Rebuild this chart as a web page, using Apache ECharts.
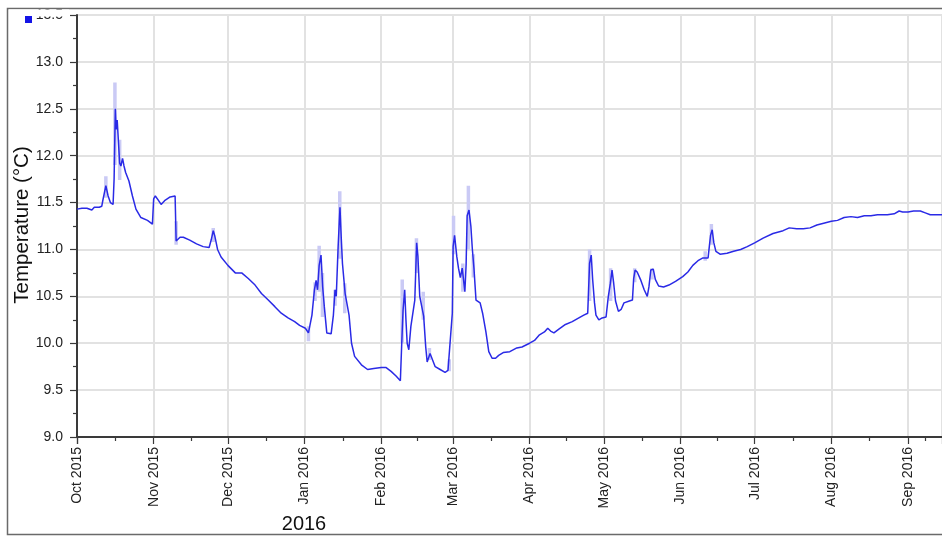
<!DOCTYPE html>
<html>
<head>
<meta charset="utf-8">
<script src="https://cdn.jsdelivr.net/npm/echarts@6/dist/echarts.min.js"></script>
<style>
html,body{margin:0;padding:0;background:#fff;}
#chart{width:942px;height:536px;}
</style>
</head>
<body>
<div id="chart"></div>
<script>
// ---- data ----
const seriesName = 'Temperature';
const yTitle = 'Temperature (°C)';
const yearLabel = '2016';
const monthNames = ['Jan','Feb','Mar','Apr','May','Jun','Jul','Aug','Sep','Oct','Nov','Dec'];

const tempDates = [
'2015-10-01','2015-10-03','2015-10-05','2015-10-07','2015-10-08','2015-10-10','2015-10-11','2015-10-11 12:00',
'2015-10-12 16:00','2015-10-13 14:00','2015-10-14 12:00','2015-10-15 14:00','2015-10-16 00:00','2015-10-16 12:00',
'2015-10-16 20:00','2015-10-17 06:00','2015-10-17 18:00','2015-10-18 06:00','2015-10-18 18:00','2015-10-19 10:00',
'2015-10-20 00:00','2015-10-20 16:00','2015-10-22','2015-10-23 10:00','2015-10-24 20:00','2015-10-26 20:00',
'2015-10-29 12:00','2015-10-31 12:00','2015-11-01','2015-11-01 16:00','2015-11-03','2015-11-04','2015-11-05 10:00',
'2015-11-07 16:00','2015-11-09 16:00','2015-11-10 02:00','2015-11-11 16:00','2015-11-13','2015-11-15 14:00',
'2015-11-18 08:00','2015-11-21','2015-11-23 10:00','2015-11-24 06:00','2015-11-25 02:00','2015-11-25 18:00',
'2015-11-26 20:00','2015-11-28 06:00','2015-12-01','2015-12-04','2015-12-06 14:00','2015-12-09 06:00','2015-12-12',
'2015-12-14 14:00','2015-12-17 08:00','2015-12-20','2015-12-22 14:00','2015-12-25 08:00','2015-12-28','2015-12-30',
'2016-01-01 08:00','2016-01-02 14:00','2016-01-04','2016-01-05','2016-01-05 16:00','2016-01-06 06:00','2016-01-06 22:00',
'2016-01-07 16:00','2016-01-08 08:00','2016-01-09','2016-01-10','2016-01-11 18:00','2016-01-12 16:00','2016-01-13 08:00',
'2016-01-13 20:00','2016-01-14 14:00','2016-01-15 08:00','2016-01-15 20:00','2016-01-16 08:00','2016-01-17 10:00',
'2016-01-19','2016-01-20','2016-01-21 06:00','2016-01-24','2016-01-26 12:00','2016-01-29','2016-02-01','2016-02-03',
'2016-02-05','2016-02-07','2016-02-08 18:00','2016-02-09 06:00','2016-02-09 20:00','2016-02-10 12:00','2016-02-11 00:00',
'2016-02-11 12:00','2016-02-12 04:00','2016-02-13 00:00','2016-02-14 14:00','2016-02-15 08:00','2016-02-15 20:00',
'2016-02-16 14:00','2016-02-18 04:00','2016-02-19 00:00','2016-02-19 14:00','2016-02-20 18:00','2016-02-21 12:00',
'2016-02-22 20:00','2016-02-24 20:00','2016-02-26 20:00','2016-02-28','2016-02-29 18:00','2016-03-01 02:00',
'2016-03-01 16:00','2016-03-02 14:00','2016-03-03 06:00','2016-03-04','2016-03-04 18:00','2016-03-05 20:00',
'2016-03-06 08:00','2016-03-06 18:00','2016-03-07 12:00','2016-03-08 06:00','2016-03-08 20:00','2016-03-09 12:00',
'2016-03-10 08:00','2016-03-12','2016-03-13','2016-03-14 08:00','2016-03-15 12:00','2016-03-16 20:00','2016-03-18 06:00',
'2016-03-19 12:00','2016-03-21 08:00','2016-03-24','2016-03-26 20:00','2016-03-28 22:00','2016-04-01','2016-04-03',
'2016-04-05','2016-04-07','2016-04-08 08:00','2016-04-09 12:00','2016-04-10 20:00','2016-04-12 20:00','2016-04-15 12:00',
'2016-04-18 06:00','2016-04-20 22:00','2016-04-22 22:00','2016-04-24 12:00','2016-04-25 06:00','2016-04-25 22:00',
'2016-04-26 12:00','2016-04-27 06:00','2016-04-27 20:00','2016-04-29','2016-04-30 08:00','2016-05-01 22:00',
'2016-05-02 20:00','2016-05-03 16:00','2016-05-04 08:00','2016-05-05','2016-05-05 18:00','2016-05-06 22:00','2016-05-08',
'2016-05-09 04:00','2016-05-11 08:00','2016-05-12 14:00','2016-05-13 02:00','2016-05-13 16:00','2016-05-14 12:00',
'2016-05-16','2016-05-17 08:00','2016-05-18 14:00','2016-05-19 06:00','2016-05-20','2016-05-21','2016-05-21 20:00',
'2016-05-23 04:00','2016-05-25 04:00','2016-05-27 08:00','2016-05-30','2016-06-01 22:00','2016-06-04','2016-06-06',
'2016-06-08 02:00','2016-06-10 02:00','2016-06-12 04:00','2016-06-12 20:00','2016-06-13 04:00','2016-06-13 20:00',
'2016-06-14 12:00','2016-06-15 08:00','2016-06-17','2016-06-19 20:00','2016-06-22 12:00','2016-06-25 08:00','2016-06-28',
'2016-07-01','2016-07-04 10:00','2016-07-08 10:00','2016-07-12 12:00','2016-07-15','2016-07-18','2016-07-20 16:00',
'2016-07-23 10:00','2016-07-26 04:00','2016-07-28 22:00','2016-08-01','2016-08-03 12:00','2016-08-06 04:00',
'2016-08-08 22:00','2016-08-11 14:00','2016-08-14 08:00','2016-08-17','2016-08-19 16:00','2016-08-23 16:00',
'2016-08-26 10:00','2016-08-28 10:00','2016-08-29 20:00','2016-09-01','2016-09-03 06:00','2016-09-06','2016-09-08',
'2016-09-10','2016-09-14 18:00'
];
const tempValues = [
11.43,11.44,11.44,11.42,11.45,11.45,11.46,11.53,
11.68,11.57,11.50,11.48,11.75,12.50,
12.28,12.38,12.15,11.92,11.89,11.97,
11.89,11.82,11.73,11.57,11.43,11.34,
11.31,11.27,11.54,11.57,11.52,11.48,11.52,
11.56,11.57,11.09,11.13,11.13,11.10,
11.06,11.03,11.02,11.10,11.20,11.14,
11.00,10.92,10.83,10.75,10.75,10.69,10.62,
10.53,10.46,10.39,10.32,10.27,10.23,10.19,
10.16,10.11,10.30,10.57,10.67,10.57,10.83,
10.94,10.60,10.39,10.11,10.10,10.30,10.57,
10.50,11.03,11.45,11.13,10.85,10.53,
10.30,10.00,9.86,9.77,9.72,9.73,9.74,9.74,
9.70,9.65,9.60,9.96,10.35,10.57,10.25,
10.00,9.93,10.18,10.46,11.07,10.93,
10.50,10.29,9.96,9.80,9.89,9.87,
9.75,9.72,9.69,9.71,10.32,11.03,
11.15,10.92,10.80,10.70,10.80,10.55,
10.84,11.36,11.42,11.25,11.01,10.80,
10.46,10.43,10.32,10.12,9.91,9.84,9.84,
9.87,9.90,9.91,9.95,9.96,10.00,10.03,
10.09,10.12,10.16,10.13,10.11,10.15,10.20,
10.23,10.27,10.30,10.32,10.85,10.94,
10.68,10.43,10.30,10.25,10.27,10.28,
10.50,10.64,10.78,10.64,10.45,10.34,10.36,
10.43,10.45,10.46,10.69,10.78,10.76,
10.67,10.57,10.50,10.60,10.78,10.79,10.68,
10.61,10.60,10.62,10.66,10.71,10.76,10.83,
10.88,10.91,10.91,10.93,11.15,11.21,
11.07,10.98,10.95,10.96,10.98,11.00,11.03,
11.07,11.12,11.17,11.20,11.23,11.22,11.22,
11.23,11.26,11.28,11.30,11.31,11.34,
11.35,11.34,11.36,11.36,11.37,11.37,
11.38,11.41,11.40,11.40,11.41,11.41,11.39,
11.37,11.37
];

// light range bars (daily min/max spread visible at the spikes)
const rangeDates = [
'2015-10-12 16:00','2015-10-16 08:00','2015-10-18 06:00','2015-11-10 02:00','2015-11-25 02:00',
'2016-01-02 14:00','2016-01-05 06:00','2016-01-06 22:00','2016-01-08 06:00','2016-01-13 08:00','2016-01-15 06:00',
'2016-01-17 06:00','2016-02-09 12:00','2016-02-15 06:00','2016-02-18 00:00','2016-02-20 12:00','2016-02-28 12:00',
'2016-03-01 06:00','2016-03-05 00:00','2016-03-07 06:00','2016-03-09 06:00','2016-04-25 06:00','2016-05-03 18:00',
'2016-05-13 12:00','2016-05-20 12:00','2016-06-11 00:00','2016-06-13 12:00'
];
const rangeLows = [
11.55,11.90,11.74,11.05,11.08,
10.02,10.45,10.55,10.28,10.40,10.90,
10.32,10.00,10.75,10.25,9.82,9.70,
10.95,10.55,11.00,10.70,10.45,10.45,
10.65,10.68,10.88,11.05
];
const rangeHighs = [
11.78,12.78,12.17,11.30,11.23,
10.18,10.65,11.04,10.75,10.57,11.62,
10.64,10.68,11.12,10.55,9.95,9.83,
11.36,10.85,11.68,10.95,11.00,10.80,
10.80,10.80,10.98,11.27
];

const yTicks = [9.0, 9.5, 10.0, 10.5, 11.0, 11.5, 12.0, 12.5, 13.0, 13.5];

// ---- build series data ----
const mainData = tempDates.map((d, i) => [d, tempValues[i]]);
const rangeData = [];
rangeDates.forEach((d, i) => {
  rangeData.push([d, rangeLows[i]]);
  rangeData.push([d, rangeHighs[i]]);
  rangeData.push([d, null]);
});

const FONT = '"Liberation Sans", Arial, sans-serif';
const chart = echarts.init(document.getElementById('chart'), null, {renderer: 'canvas'});
chart.setOption({
  animation: false,
  backgroundColor: '#ffffff',
  grid: {left: 77, right: 0, top: 15, bottom: 99, containLabel: false},
  xAxis: {
    type: 'time',
    min: '2015-10-01',
    max: '2016-09-14 18:00',
    splitNumber: 12,
    axisLine: {lineStyle: {color: '#3a3a3a', width: 2}},
    axisTick: {show: true, length: 7, lineStyle: {color: '#3a3a3a', width: 1.2}},
    minorTick: {show: true, splitNumber: 2, length: 4, lineStyle: {color: '#3a3a3a', width: 1.2}},
    splitLine: {show: true, lineStyle: {color: '#e2e2e2', width: 2}},
    axisLabel: {
      rotate: 90, margin: 10, fontSize: 14, color: '#222', fontFamily: FONT,
      showMinLabel: true, hideOverlap: false,
      formatter: function (v) {
        const d = new Date(v);
        return monthNames[d.getMonth()] + ' ' + d.getFullYear();
      }
    }
  },
  yAxis: {
    type: 'value',
    min: 9, max: 13.5, interval: 0.5,
    axisLine: {show: true, lineStyle: {color: '#3a3a3a', width: 2}},
    axisTick: {show: true, length: 7, lineStyle: {color: '#3a3a3a', width: 1.2}},
    minorTick: {show: true, splitNumber: 2, length: 4, lineStyle: {color: '#3a3a3a', width: 1.2}},
    splitLine: {show: true, lineStyle: {color: '#e2e2e2', width: 2}},
    axisLabel: {
      margin: 14, fontSize: 14, color: '#222', fontFamily: FONT,
      formatter: function (v) { return yTicks.indexOf(+v.toFixed(1)) >= 0 ? v.toFixed(1) : ''; }
    }
  },
  series: [
    {
      name: seriesName + ' range', type: 'line', data: rangeData, connectNulls: false,
      showSymbol: false, symbol: 'none', silent: true,
      lineStyle: {color: '#cacaf5', width: 3.5, cap: 'butt'}, z: 2
    },
    {
      name: seriesName, type: 'line', data: mainData,
      showSymbol: false, symbol: 'none',
      lineStyle: {color: '#2a2ae6', width: 1.5}, z: 3
    }
  ],
  graphic: [
    {type: 'rect', z: 100, shape: {x: 7.5, y: 8.5, width: 960, height: 526}, style: {fill: 'none', stroke: '#6a6a6a', lineWidth: 1.5}},
    {type: 'rect', z: 101, shape: {x: 9, y: 9.5, width: 60, height: 7}, style: {fill: '#ffffff'}},
    {type: 'rect', z: 102, shape: {x: 25, y: 16, width: 7, height: 7}, style: {fill: '#1414e6'}},
    {type: 'text', z: 102, x: 22, y: 225, rotation: Math.PI / 2,
      style: {text: yTitle, font: '20.5px ' + FONT, fill: '#111', textAlign: 'center', textVerticalAlign: 'middle'}},
    {type: 'text', z: 102, x: 304, y: 524,
      style: {text: yearLabel, font: '20px ' + FONT, fill: '#111', textAlign: 'center', textVerticalAlign: 'middle'}}
  ]
});
</script>
</body>
</html>
